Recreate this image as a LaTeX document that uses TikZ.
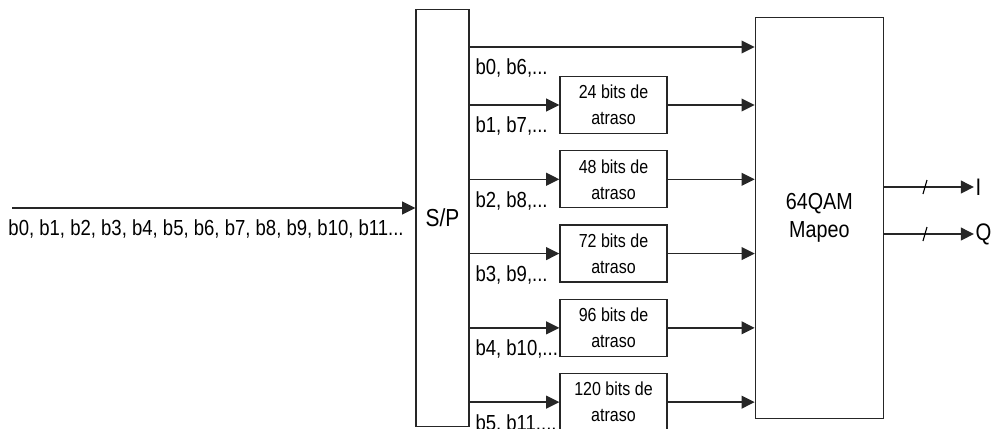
\documentclass[tikz,border=0pt]{standalone}
\usepackage{fontspec}
\setmainfont{Liberation Sans}[FakeStretch=0.85]
\usetikzlibrary{arrows.meta, positioning}
\tikzset{
    box/.style={draw=black!85, line width=0.9pt, fill=white, align=center, inner sep=0pt},
    delaybox/.style={box, minimum width=2.675cm, minimum height=1.425cm, font=\fontsize{13.4}{18.5}\selectfont},
    arrow/.style={-{Triangle[length=0.33cm,width=0.32cm]}, line width=1.1pt, black!85},
    lbl/.style={inner sep=1pt, font=\fontsize{15.5}{17}\selectfont}
}

\begin{document}
\begin{tikzpicture}[x=0.025cm, y=-0.025cm]
        \useasboundingbox (0,0) rectangle (1000,428);
        \node [box, minimum width=1.325cm, minimum height=10.43cm, font=\fontsize{17.5}{20}\selectfont] (sp) at (442.5,218) {S/P};
        \node [box, minimum width=3.2cm, minimum height=10.03cm, font=\fontsize{16.5}{20}\selectfont, right=7.125cm of sp] (qam) {64QAM\\Mapeo};
        \node [delaybox] (d1) at (613.5,105) {24 bits de\\atraso};
        \node [delaybox, below=0.4cm of d1] (d2) {48 bits de\\atraso};
        \node [delaybox, below=0.4cm of d2] (d3) {72 bits de\\atraso};
        \node [delaybox, below=0.4cm of d3] (d4) {96 bits de\\atraso};
        \node [delaybox, below=0.4cm of d4] (d5) {120 bits de\\atraso};
        % input
        \coordinate (in) at (12,208);
        \draw [arrow] (in) -- (sp.west |- in);
        \node [lbl, anchor=north east, xshift=-0.25cm, yshift=-0.26cm] (inlbl) at (sp.west |- in) {b0, b1, b2, b3, b4, b5, b6, b7, b8, b9, b10, b11...};
        % direct branch
        \coordinate (r0) at (0,47);
        \draw [arrow] (sp.east |- r0) -- (qam.west |- r0);
        \node [lbl, anchor=north west, xshift=3pt, yshift=-0.26cm] (l0) at (sp.east |- r0) {b0, b6,...};
        % delayed branches
        \foreach \i/\txt in {1/{b1, b7,...}, 2/{b2, b8,...}, 3/{b3, b9,...}, 4/{b4, b10,...}, 5/{b5, b11,...}} {
            \draw [arrow] (sp.east |- d\i) -- (d\i);
            \draw [arrow] (d\i) -- (qam.west |- d\i);
            \node [lbl, anchor=north west, xshift=3pt, yshift=-0.26cm] (l\i) at (sp.east |- d\i) {\txt};
        }
        % outputs
        \node [anchor=west, inner sep=1pt, font=\fontsize{17}{19}\selectfont] (I) at (974,187) {I};
        \node [anchor=west, inner sep=1pt, font=\fontsize{17}{19}\selectfont] (Q) at (974,234) {Q};
        \draw [arrow] (qam.east |- I) -- (I);
        \draw [arrow] (qam.east |- Q) -- (Q);
        \draw [line width=0.8pt] (923,194) -- (927,180);
        \draw [line width=0.8pt] (923,241) -- (927,227);
    \end{tikzpicture}
\end{document}
